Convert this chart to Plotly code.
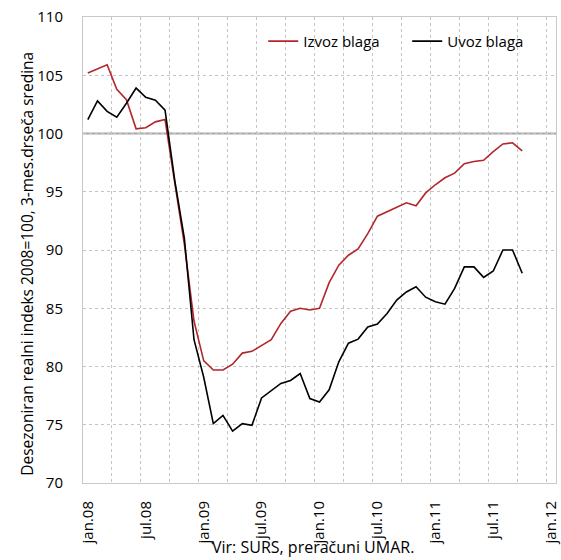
import plotly.graph_objects as go

months = ["jan.08", "feb.08", "mar.08", "apr.08", "maj.08", "jun.08", "jul.08", "avg.08", "sep.08", "okt.08", "nov.08", "dec.08",
          "jan.09", "feb.09", "mar.09", "apr.09", "maj.09", "jun.09", "jul.09", "avg.09", "sep.09", "okt.09", "nov.09", "dec.09",
          "jan.10", "feb.10", "mar.10", "apr.10", "maj.10", "jun.10", "jul.10", "avg.10", "sep.10", "okt.10", "nov.10", "dec.10",
          "jan.11", "feb.11", "mar.11", "apr.11", "maj.11", "jun.11", "jul.11", "avg.11", "sep.11", "okt.11"]

izvoz = [105.2, 105.55, 105.9, 103.8, 102.9, 100.4, 100.5, 101.0, 101.2, 95.8, 90.5, 83.9,
         80.5, 79.7, 79.7, 80.2, 81.15, 81.3, 81.8, 82.3, 83.7, 84.75, 85.0, 84.85,
         85.0, 87.2, 88.7, 89.55, 90.1, 91.4, 92.9, 93.3, 93.7, 94.05, 93.8, 94.9,
         95.6, 96.2, 96.6, 97.4, 97.6, 97.7, 98.45, 99.1, 99.2, 98.5]

uvoz = [101.2, 102.8, 101.9, 101.4, 102.6, 103.9, 103.1, 102.85, 102.0, 96.0, 91.0, 82.3,
        79.1, 75.1, 75.8, 74.45, 75.1, 74.95, 77.3, 77.95, 78.55, 78.8, 79.4, 77.25,
        76.95, 78.0, 80.4, 82.0, 82.35, 83.4, 83.65, 84.55, 85.7, 86.4, 86.85, 85.95,
        85.55, 85.35, 86.7, 88.55, 88.55, 87.65, 88.2, 90.0, 90.0, 88.0]

tick_labels = ["jan.08", "jul.08", "jan.09", "jul.09", "jan.10", "jul.10", "jan.11", "jul.11", "jan.12"]
tick_pos = [6 * k for k in range(len(tick_labels))]
xidx = list(range(len(months)))

FONT = "Open Sans"

fig = go.Figure()
fig.add_trace(go.Scatter(x=xidx, y=izvoz, mode="lines", name="Izvoz blaga",
                         line=dict(color="#b3262a", width=1.6), text=months))
fig.add_trace(go.Scatter(x=xidx, y=uvoz, mode="lines", name="Uvoz blaga",
                         line=dict(color="#000000", width=1.6), text=months))

fig.add_shape(type="line", xref="paper", x0=0, x1=1, yref="y", y0=100, y1=100,
              line=dict(color="#a6a6a6", width=2), layer="below")

fig.update_layout(
    width=561, height=560,
    margin=dict(l=83, r=5, t=17, b=77, autoexpand=False),
    paper_bgcolor="white", plot_bgcolor="white",
    font=dict(family=FONT, size=14, color="#000000"),
    showlegend=True,
    legend=dict(orientation="h", x=0.381, y=0.983, xanchor="left", yanchor="top",
                font=dict(size=15), bgcolor="rgba(0,0,0,0)", tracegroupgap=0,
                entrywidth=99),
    xaxis=dict(range=[-0.5, 48.5], tickmode="array", tickvals=tick_pos, ticktext=tick_labels,
               tickangle=-90, showgrid=False, zeroline=False, automargin=False,
               showline=True, mirror=True, linecolor="#c8c8c8", linewidth=1,
               ticks="", ticklabelstandoff=11, tickfont=dict(size=15), ticklabeloverflow="allow",
               minor=dict(tickmode="linear", tick0=-0.5, dtick=3, showgrid=True,
                          griddash="dot", gridcolor="#c4c4c4", gridwidth=1, ticks="")),
    yaxis=dict(range=[70, 110], tickmode="linear", tick0=70, dtick=5, automargin=False,
               showgrid=True, griddash="dot", gridcolor="#c4c4c4", gridwidth=1, zeroline=False,
               showline=True, mirror=True, linecolor="#c8c8c8", linewidth=1,
               ticks="", ticklabelstandoff=16, tickfont=dict(size=15), ticklabeloverflow="allow"),
    annotations=[
        dict(text="Desezoniran realni indeks 2008=100, 3-mes.drseča sredina", textangle=-90,
             xref="paper", yref="paper", x=-0.12, y=0.471, xanchor="center", yanchor="middle",
             showarrow=False, font=dict(size=15.5)),
        dict(text="Vir: SURS, preračuni UMAR.", xref="paper", yref="paper", x=0.486, y=-0.166,
             xanchor="center", yanchor="bottom", showarrow=False, font=dict(size=16)),
    ],
)

# remove the browser's default 8px body margin so the figure fills the window exactly
fig.write_html("out.html", config={"displayModeBar": False},
               post_script="document.body.style.margin='0px';")
